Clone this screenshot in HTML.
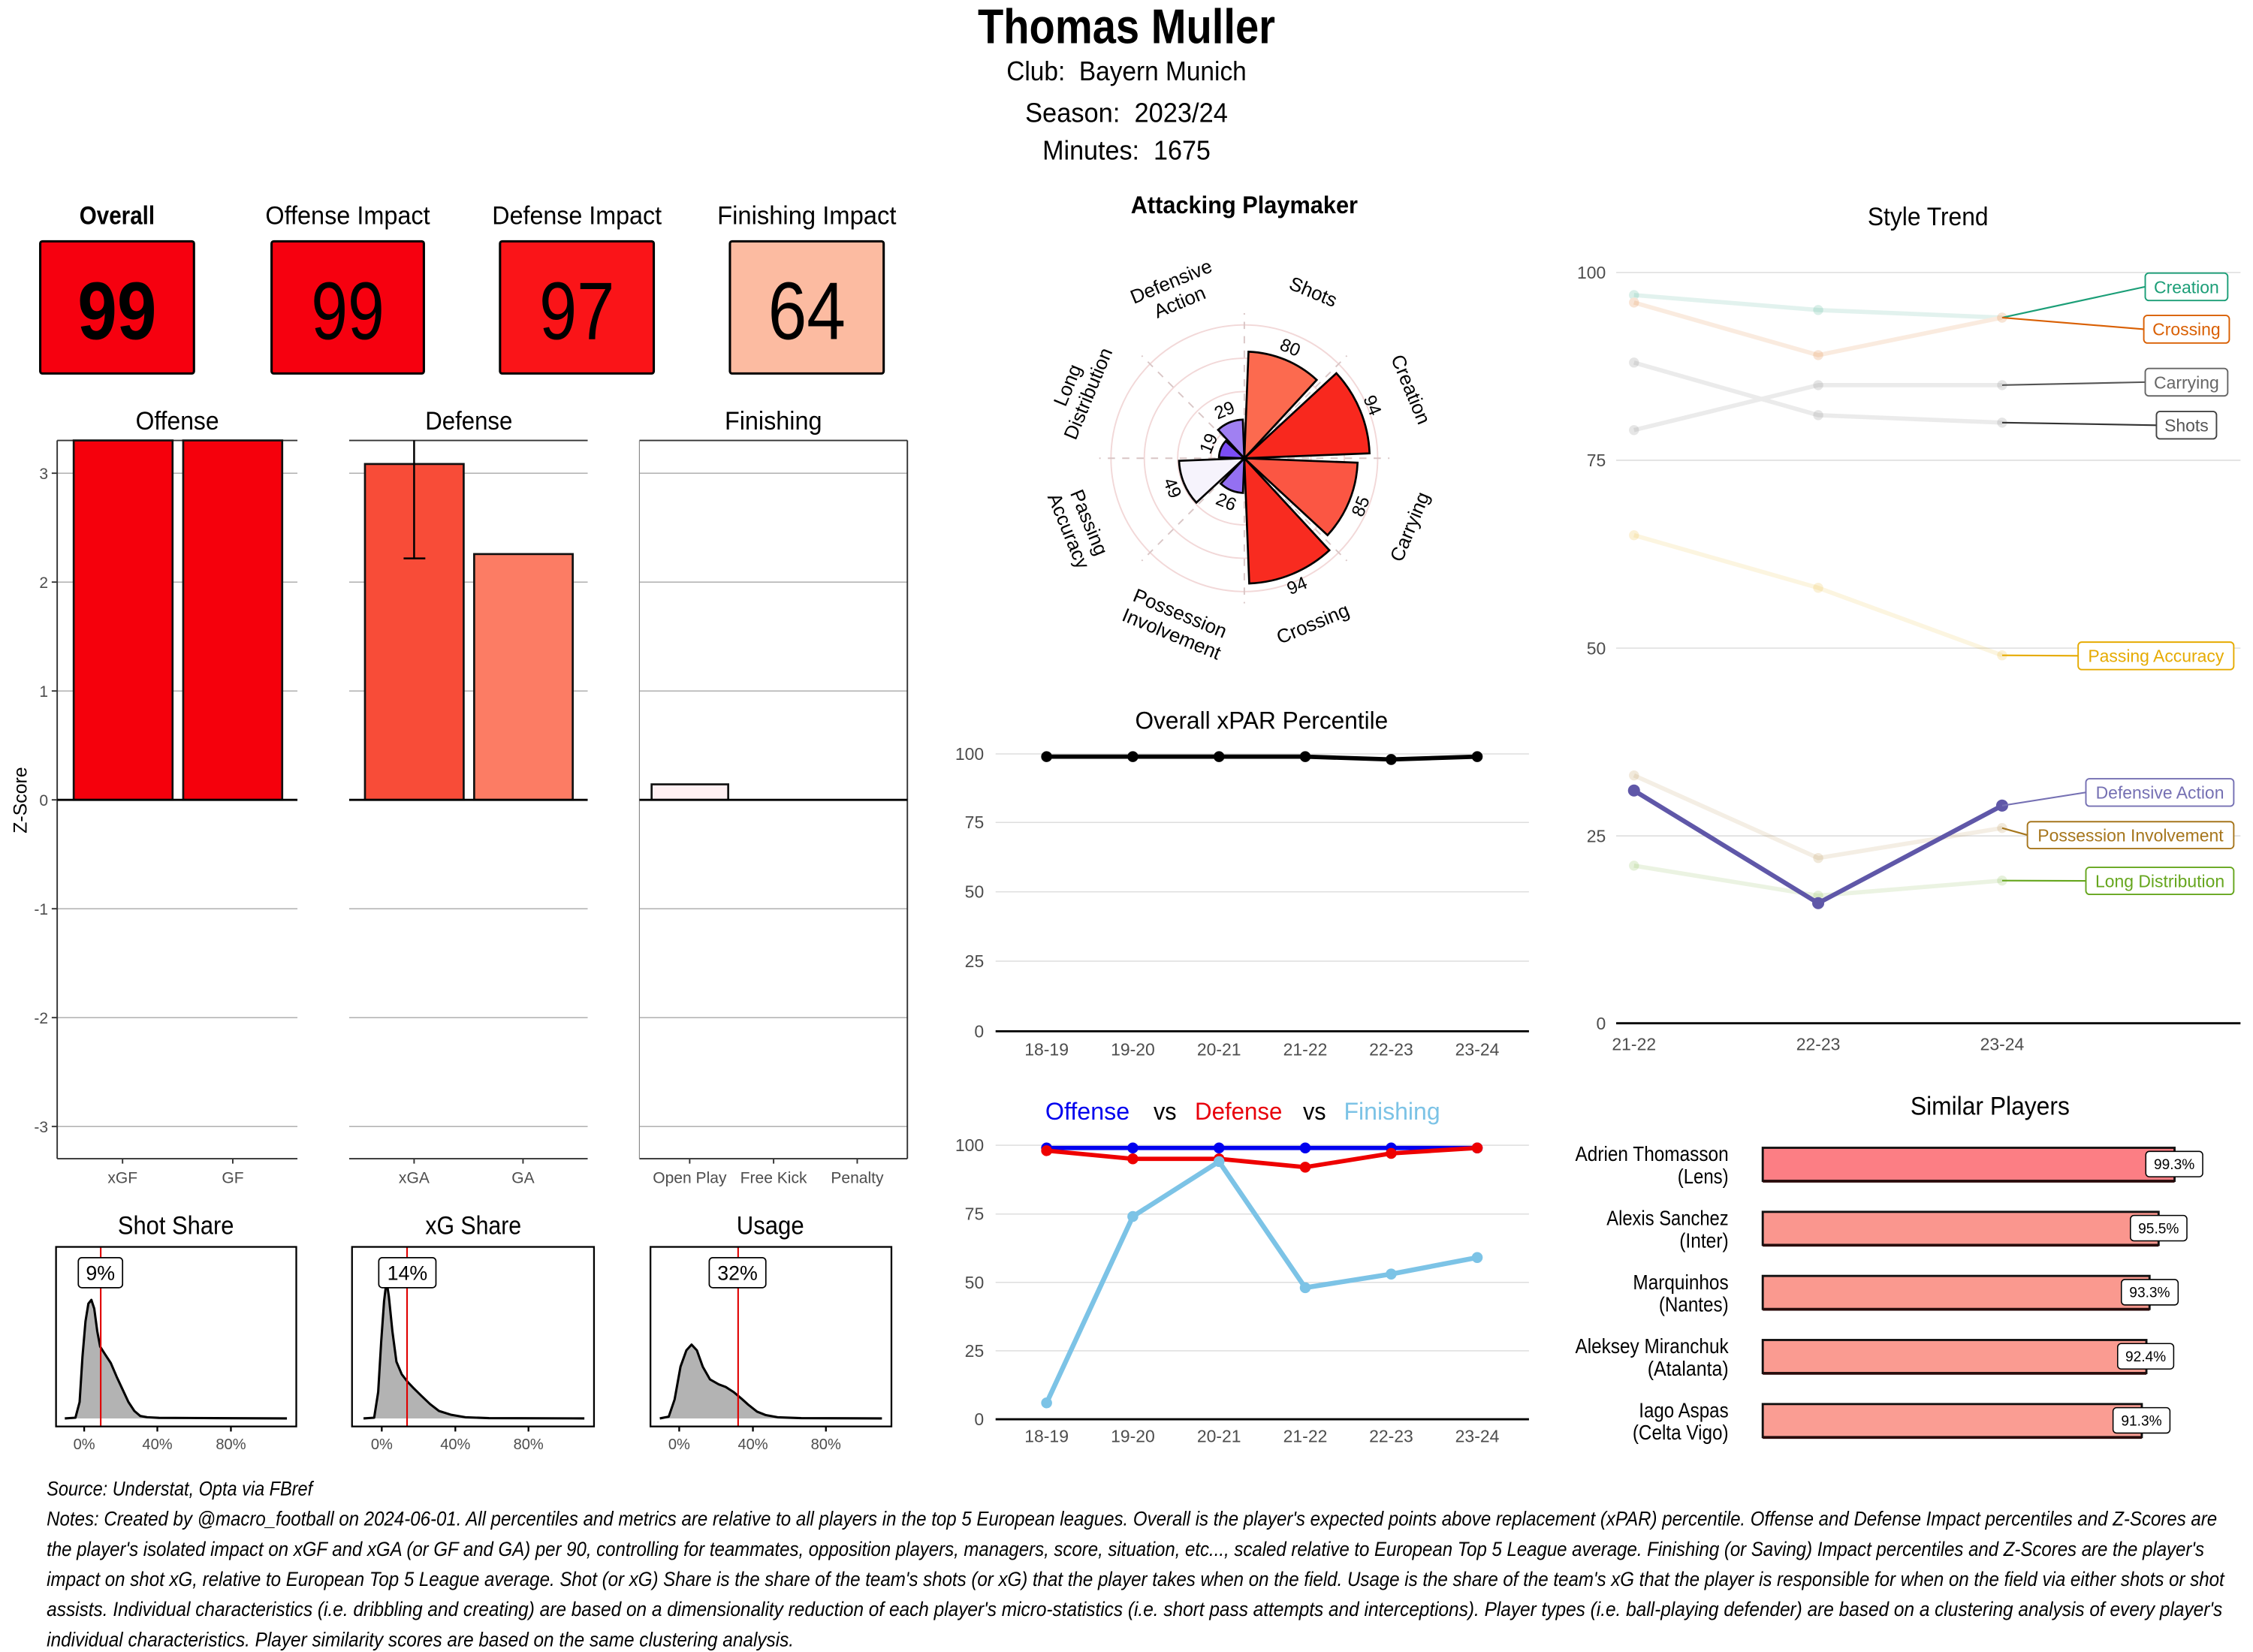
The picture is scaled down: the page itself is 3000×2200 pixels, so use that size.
<!DOCTYPE html>
<html><head><meta charset="utf-8"><style>
html,body{margin:0;padding:0;background:#fff;}
svg{display:block;}
.c{font-family:"Liberation Sans Narrow","Liberation Sans",sans-serif;}
.r{font-family:"Liberation Sans",sans-serif;}
</style></head><body>
<svg width="3000" height="2200" viewBox="0 0 1568 1150" preserveAspectRatio="none" xmlns="http://www.w3.org/2000/svg">
<rect x="0" y="0" width="1568" height="1150" fill="#fff"/>

<!-- HEADER -->
<g class="c" text-anchor="middle" fill="#000">
<text x="784" y="30" font-size="34" font-weight="bold" textLength="207" lengthAdjust="spacingAndGlyphs">Thomas Muller</text>
<text x="784" y="56" font-size="19" textLength="167" lengthAdjust="spacingAndGlyphs" xml:space="preserve">Club:  Bayern Munich</text>
<text x="784" y="85" font-size="19" textLength="141" lengthAdjust="spacingAndGlyphs" xml:space="preserve">Season:  2023/24</text>
<text x="784" y="111" font-size="19" textLength="117" lengthAdjust="spacingAndGlyphs" xml:space="preserve">Minutes:  1675</text>
</g>

<!-- SCORE BOXES -->
<g class="c" text-anchor="middle" fill="#000">
<text x="81.5" y="156" font-size="18" font-weight="bold" textLength="52.5" lengthAdjust="spacingAndGlyphs">Overall</text>
<text x="242" y="156" font-size="18" textLength="114.6" lengthAdjust="spacingAndGlyphs">Offense Impact</text>
<text x="401.5" y="156" font-size="18" textLength="118" lengthAdjust="spacingAndGlyphs">Defense Impact</text>
<text x="561.5" y="156" font-size="18" textLength="124.6" lengthAdjust="spacingAndGlyphs">Finishing Impact</text>
</g>
<g stroke="#000" stroke-width="1.6">
<rect x="28" y="168" width="107" height="92" rx="1.5" fill="#F6000F"/>
<rect x="189" y="168" width="106" height="92" rx="1.5" fill="#F6000F"/>
<rect x="348" y="168" width="107" height="92" rx="1.5" fill="#FA1418"/>
<rect x="508" y="168" width="107" height="92" rx="1.5" fill="#FCBBA1"/>
</g>
<g class="c" text-anchor="middle" fill="#000" font-size="57">
<text x="81.5" y="236" font-weight="bold" textLength="55" lengthAdjust="spacingAndGlyphs">99</text>
<text x="242" y="236" textLength="51" lengthAdjust="spacingAndGlyphs">99</text>
<text x="401.5" y="236" textLength="52.5" lengthAdjust="spacingAndGlyphs">97</text>
<text x="561.5" y="236" textLength="54" lengthAdjust="spacingAndGlyphs">64</text>
</g>

<!-- Z-SCORE BAR PANELS -->
<g class="c" text-anchor="middle" fill="#000" font-size="18">
<text x="123.4" y="299" textLength="58" lengthAdjust="spacingAndGlyphs">Offense</text>
<text x="326.3" y="299" textLength="60.7" lengthAdjust="spacingAndGlyphs">Defense</text>
<text x="538.2" y="299" textLength="67.7" lengthAdjust="spacingAndGlyphs">Finishing</text>
</g>
<g stroke="#a8a8a8" stroke-width="0.7">
<path d="M39.8 329.4H207M39.8 405.2H207M39.8 481H207M39.8 632.6H207M39.8 708.4H207M39.8 784.2H207"/>
<path d="M243 329.4H409M243 405.2H409M243 481H409M243 632.6H409M243 708.4H409M243 784.2H409"/>
<path d="M445 329.4H631.5M445 405.2H631.5M445 481H631.5M445 632.6H631.5M445 708.4H631.5M445 784.2H631.5"/>
</g>
<g stroke="#333" stroke-width="1" fill="none">
<path d="M39.8 306.6H207M243 306.6H409M445 306.6H631.5"/>
<path d="M39.8 806.6H207M243 806.6H409M445 806.6H631.5"/>
<path d="M39.8 306.6V806.6M631.5 306.6V806.6"/>
<path d="M36 329.4H39.8M36 405.2H39.8M36 481H39.8M36 556.8H39.8M36 632.6H39.8M36 708.4H39.8M36 784.2H39.8"/>
<path d="M85.3 806.6V810M162 806.6V810M288.2 806.6V810M364 806.6V810M480 806.6V810M538.4 806.6V810M596.6 806.6V810"/>
</g>
<path d="M445 306.6V806.6" stroke="#888" stroke-width="0.6"/>
<g class="c" fill="#4d4d4d" font-size="11" text-anchor="end">
<text x="33.5" y="333.4">3</text>
<text x="33.5" y="409.2">2</text>
<text x="33.5" y="485">1</text>
<text x="33.5" y="560.8">0</text>
<text x="33.5" y="636.6">-1</text>
<text x="33.5" y="712.4">-2</text>
<text x="33.5" y="788.2">-3</text>
</g>
<text class="r" x="0" y="0" font-size="13" text-anchor="middle" fill="#000" transform="translate(18.5 557) rotate(-90)">Z-Score</text>
<g class="c" fill="#4d4d4d" font-size="11" text-anchor="middle">
<text x="85.3" y="823.6">xGF</text>
<text x="162" y="823.6">GF</text>
<text x="288.2" y="823.6">xGA</text>
<text x="364" y="823.6">GA</text>
<text x="480" y="823.6">Open Play</text>
<text x="538.4" y="823.6">Free Kick</text>
<text x="596.6" y="823.6">Penalty</text>
</g>
<g stroke="#111" stroke-width="1.4">
<rect x="51.3" y="306.6" width="68.8" height="250.2" fill="#F5000C"/>
<rect x="127.5" y="306.6" width="68.9" height="250.2" fill="#F5000C"/>
<rect x="254" y="323" width="68.7" height="233.8" fill="#F84C38"/>
<rect x="330" y="385.7" width="68.6" height="171.1" fill="#FC7C64"/>
<rect x="453.5" y="546" width="53.3" height="10.8" fill="#FFF0F2"/>
</g>
<g stroke="#000" stroke-width="1.5">
<path d="M39.8 556.8H207M243 556.8H409M445 556.8H631.5"/>
</g>
<g stroke="#000" stroke-width="1.3">
<path d="M288.2 306.6V388.7M280.9 388.7H296"/>
</g>

<!-- DENSITY PANELS -->
<g class="c" text-anchor="middle" fill="#000" font-size="18">
<text x="122.4" y="859" textLength="80.8" lengthAdjust="spacingAndGlyphs">Shot Share</text>
<text x="329.4" y="859" textLength="66.8" lengthAdjust="spacingAndGlyphs">xG Share</text>
<text x="536.1" y="859" textLength="47" lengthAdjust="spacingAndGlyphs">Usage</text>
</g>
<g fill="#b3b3b3" stroke="#000" stroke-width="1.6" stroke-linejoin="round">
<path d="M45.1 987.4L52.5 986.9L55.4 976L57.4 944.4L59.5 919.8L61.5 907.5L63.6 904.9L65.6 911L67.7 926.8L69.7 937.4L73 942.6L77.1 948.8L81.2 958.4L85.3 967.2L89.4 976L93.5 982.2L97.6 985.7L102.5 986.6L110.7 987L150 987.2L199.7 987.4"/>
<path d="M253 987.4L260.4 986.9L263.2 969L265.3 933.9L267.3 905.8L269 891.7L270.6 902.2L273.1 926.8L275.9 947.9L279.6 956.7L283.7 962L287.8 966.3L293.2 971.6L299.3 977.4L305.5 982.2L313.7 984.8L323.9 986.6L340.3 987.2L406.7 987.4"/>
<path d="M459.2 987.4L465.4 986.2L469.5 974.2L473.6 951.4L477.7 940L481.3 936L485 940L489.1 951.4L494.1 960.2L500.2 963.7L505.1 965.5L510.5 969L515.8 973.4L520.7 977.8L526.9 982.7L533 985.1L541.2 986.6L557.6 987.2L613.8 987.4"/>
</g>
<g stroke="#E00000" stroke-width="1.1">
<path d="M70.1 868V993M283.3 868V993M513.7 868V993"/>
</g>
<g fill="none" stroke="#000" stroke-width="1.2">
<rect x="39" y="868" width="167.2" height="125"/>
<rect x="245" y="868" width="168.4" height="125"/>
<rect x="452.7" y="868" width="167.7" height="125"/>
<path d="M58.6 993V996.5M109.5 993V996.5M160.7 993V996.5M265.7 993V996.5M316.9 993V996.5M367.8 993V996.5M472.7 993V996.5M524 993V996.5M574.8 993V996.5"/>
</g>
<g fill="#fff" stroke="#000" stroke-width="0.9">
<rect x="54.5" y="875.5" width="30.8" height="20.9" rx="2.5"/>
<rect x="263.6" y="875.5" width="39.8" height="20.9" rx="2.5"/>
<rect x="493.6" y="875.5" width="39.4" height="20.9" rx="2.5"/>
</g>
<g class="c" text-anchor="middle" fill="#000" font-size="14">
<text x="69.9" y="891">9%</text>
<text x="283.5" y="891">14%</text>
<text x="513.3" y="891">32%</text>
</g>
<g class="c" text-anchor="middle" fill="#4d4d4d" font-size="10.5">
<text x="58.6" y="1009">0%</text><text x="109.5" y="1009">40%</text><text x="160.7" y="1009">80%</text>
<text x="265.7" y="1009">0%</text><text x="316.9" y="1009">40%</text><text x="367.8" y="1009">80%</text>
<text x="472.7" y="1009">0%</text><text x="524" y="1009">40%</text><text x="574.8" y="1009">80%</text>
</g>

<!-- RADAR -->
<text class="c" x="866" y="148.5" font-size="17" font-weight="bold" text-anchor="middle" textLength="158" lengthAdjust="spacingAndGlyphs">Attacking Playmaker</text>
<g fill="none" stroke="#F2D8D8" stroke-width="1">
<circle cx="866" cy="319" r="23.2"/>
<circle cx="866" cy="319" r="46.4"/>
<circle cx="866" cy="319" r="69.6"/>
<circle cx="866" cy="319" r="92.8"/>
</g>
<g stroke="#D9C6C6" stroke-width="1" stroke-dasharray="5 5">
<path d="M866 319V218M866 319V420M866 319H765M866 319H967M866 319L937.4 247.6M866 319L794.6 390.4M866 319L794.6 247.6M866 319L937.4 390.4"/>
</g>
<g stroke="#000" stroke-width="1.4" stroke-linejoin="miter">
<path d="M866 319L868.91 244.82A74.24 74.24 0 0 1 916.39 264.48Z" fill="#FC6A4F"/>
<path d="M866 319L930.05 259.79A87.23 87.23 0 0 1 953.16 315.58Z" fill="#F8281E"/>
<path d="M866 319L944.82 322.1A78.88 78.88 0 0 1 923.92 372.54Z" fill="#FB5643"/>
<path d="M866 319L925.21 383.05A87.23 87.23 0 0 1 869.42 406.16Z" fill="#F82B20"/>
<path d="M866 319L865.05 343.11A24.13 24.13 0 0 1 849.62 336.72Z" fill="#9470F2"/>
<path d="M866 319L832.61 349.87A45.47 45.47 0 0 1 820.57 320.79Z" fill="#F6F3FC"/>
<path d="M866 319L848.38 318.31A17.63 17.63 0 0 1 853.05 307.03Z" fill="#7B4DF5"/>
<path d="M866 319L847.73 299.24A26.91 26.91 0 0 1 864.94 292.11Z" fill="#A080F2"/>
</g>
<g class="r" font-size="12.5" fill="#000" text-anchor="middle" dominant-baseline="central">
<text transform="translate(897.85 242.1) rotate(22.5)">80</text>
<text transform="translate(954.9 282.2) rotate(67.5)">94</text>
<text transform="translate(947.2 352.6) rotate(-67.5)">85</text>
<text transform="translate(902.8 407.9) rotate(-22.5)">94</text>
<text transform="translate(853.3 349.6) rotate(22.5)">26</text>
<text transform="translate(815.7 339.8) rotate(67.5)">49</text>
<text transform="translate(841.4 308.8) rotate(-67.5)">19</text>
<text transform="translate(852.3 285.8) rotate(-22.5)">29</text>
</g>
<g class="r" font-size="13.5" fill="#000" text-anchor="middle" dominant-baseline="central">
<text transform="translate(913.8 203.5) rotate(22.5)">Shots</text>
<text transform="translate(981.5 271.2) rotate(67.5)">Creation</text>
<text transform="translate(981.5 366.8) rotate(-67.5)">Carrying</text>
<text transform="translate(913.8 434.5) rotate(-22.5)">Crossing</text>
<g transform="translate(818.2 434.5) rotate(22.5)"><text y="-7.75">Possession</text><text y="7.75">Involvement</text></g>
<g transform="translate(750.5 366.8) rotate(67.5)"><text y="-7.75">Passing</text><text y="7.75">Accuracy</text></g>
<g transform="translate(750.5 271.2) rotate(-67.5)"><text y="-7.75">Long</text><text y="7.75">Distribution</text></g>
<g transform="translate(818.2 203.5) rotate(-22.5)"><text y="-7.75">Defensive</text><text y="7.75">Action</text></g>
</g>

<!-- OVERALL xPAR -->
<text class="r" x="878" y="507.4" font-size="17" text-anchor="middle" fill="#000" textLength="176" lengthAdjust="spacingAndGlyphs">Overall xPAR Percentile</text>
<g stroke="#dedede" stroke-width="0.8">
<path d="M692.9 524.8H1064.1M692.9 572.5H1064.1M692.9 620.8H1064.1M692.9 669.1H1064.1"/>
</g>
<path d="M692.9 717.9H1064.1" stroke="#000" stroke-width="1.5"/>
<g class="r" fill="#4d4d4d" font-size="12" text-anchor="end">
<text x="684.8" y="529">100</text><text x="684.8" y="576.7">75</text><text x="684.8" y="625">50</text><text x="684.8" y="673.3">25</text><text x="684.8" y="722.1">0</text>
</g>
<g class="r" fill="#4d4d4d" font-size="12" text-anchor="middle">
<text x="728.4" y="734.8">18-19</text><text x="788.4" y="734.8">19-20</text><text x="848.4" y="734.8">20-21</text><text x="908.4" y="734.8">21-22</text><text x="968.2" y="734.8">22-23</text><text x="1028.1" y="734.8">23-24</text>
</g>
<polyline points="728.4,526.7 788.4,526.7 848.4,526.7 908.4,526.7 968.2,528.7 1028.1,526.7" fill="none" stroke="#000" stroke-width="3" stroke-linejoin="round"/>
<g fill="#000">
<circle cx="728.4" cy="526.7" r="3.8"/><circle cx="788.4" cy="526.7" r="3.8"/><circle cx="848.4" cy="526.7" r="3.8"/><circle cx="908.4" cy="526.7" r="3.8"/><circle cx="968.2" cy="528.7" r="3.8"/><circle cx="1028.1" cy="526.7" r="3.8"/>
</g>

<!-- OFFENSE VS DEFENSE VS FINISHING -->
<g class="r" font-size="17">
<text x="727.5" y="779.5" fill="#0000EE" textLength="58.7" lengthAdjust="spacingAndGlyphs">Offense</text>
<text x="802.8" y="779.5" fill="#000" textLength="16" lengthAdjust="spacingAndGlyphs">vs</text>
<text x="831.6" y="779.5" fill="#E8000B" textLength="60.8" lengthAdjust="spacingAndGlyphs">Defense</text>
<text x="906.8" y="779.5" fill="#000" textLength="16" lengthAdjust="spacingAndGlyphs">vs</text>
<text x="935.3" y="779.5" fill="#7CC3E6" textLength="67" lengthAdjust="spacingAndGlyphs">Finishing</text>
</g>
<g stroke="#dedede" stroke-width="0.8">
<path d="M692.9 797.2H1064.1M692.9 845.1H1064.1M692.9 892.7H1064.1M692.9 940.3H1064.1"/>
</g>
<path d="M692.9 988H1064.1" stroke="#000" stroke-width="1.5"/>
<g class="r" fill="#4d4d4d" font-size="12" text-anchor="end">
<text x="684.8" y="801.4">100</text><text x="684.8" y="849.3">75</text><text x="684.8" y="896.9">50</text><text x="684.8" y="944.5">25</text><text x="684.8" y="992.2">0</text>
</g>
<g class="r" fill="#4d4d4d" font-size="12" text-anchor="middle">
<text x="728.4" y="1004">18-19</text><text x="788.4" y="1004">19-20</text><text x="848.4" y="1004">20-21</text><text x="908.4" y="1004">21-22</text><text x="968.2" y="1004">22-23</text><text x="1028.1" y="1004">23-24</text>
</g>
<polyline points="728.4,799.1 788.4,799.1 848.4,799.1 908.4,799.1 968.2,799.1 1028.1,799.1" fill="none" stroke="#0000EE" stroke-width="3" stroke-linejoin="round"/>
<g fill="#0000EE"><circle cx="728.4" cy="799.1" r="3.8"/><circle cx="788.4" cy="799.1" r="3.8"/><circle cx="848.4" cy="799.1" r="3.8"/><circle cx="908.4" cy="799.1" r="3.8"/><circle cx="968.2" cy="799.1" r="3.8"/><circle cx="1028.1" cy="799.1" r="3.8"/></g>
<polyline points="728.4,801 788.4,806.7 848.4,806.7 908.4,812.5 968.2,802.9 1028.1,799.1" fill="none" stroke="#EE0000" stroke-width="3" stroke-linejoin="round"/>
<g fill="#EE0000"><circle cx="728.4" cy="801" r="3.8"/><circle cx="788.4" cy="806.7" r="3.8"/><circle cx="848.4" cy="806.7" r="3.8"/><circle cx="908.4" cy="812.5" r="3.8"/><circle cx="968.2" cy="802.9" r="3.8"/><circle cx="1028.1" cy="799.1" r="3.8"/></g>
<polyline points="728.4,976.6 788.4,846.8 848.4,808.6 908.4,896.4 968.2,886.9 1028.1,875.4" fill="none" stroke="#7CC3E6" stroke-width="3.4" stroke-linejoin="round"/>
<g fill="#7CC3E6"><circle cx="728.4" cy="976.6" r="3.8"/><circle cx="788.4" cy="846.8" r="3.8"/><circle cx="848.4" cy="808.6" r="3.8"/><circle cx="908.4" cy="896.4" r="3.8"/><circle cx="968.2" cy="886.9" r="3.8"/><circle cx="1028.1" cy="875.4" r="3.8"/></g>

<!-- STYLE TREND -->
<text class="r" x="1341.8" y="156.8" font-size="18" text-anchor="middle" fill="#000" textLength="84" lengthAdjust="spacingAndGlyphs">Style Trend</text>
<g stroke="#dedede" stroke-width="0.8">
<path d="M1124.8 189.7H1559.3M1124.8 320.4H1559.3M1124.8 451.2H1559.3M1124.8 581.9H1559.3"/>
</g>
<path d="M1124.8 712.3H1559.3" stroke="#000" stroke-width="1.5"/>
<g class="r" fill="#4d4d4d" font-size="12" text-anchor="end">
<text x="1117.6" y="194">100</text><text x="1117.6" y="324.7">75</text><text x="1117.6" y="455.5">50</text><text x="1117.6" y="586.2">25</text><text x="1117.6" y="716.6">0</text>
</g>
<g class="r" fill="#4d4d4d" font-size="12" text-anchor="middle">
<text x="1137.2" y="731">21-22</text><text x="1265.4" y="731">22-23</text><text x="1393.4" y="731">23-24</text>
</g>
<g fill="none" stroke-width="3" stroke-linejoin="round" opacity="0.12">
<polyline points="1137.2,205.4 1265.4,215.8 1393.4,221.1" stroke="#1B9E77"/>
<polyline points="1137.2,210.6 1265.4,247.2 1393.4,221.1" stroke="#D95F02"/>
<polyline points="1137.2,299.4 1265.4,268.1 1393.4,268.1" stroke="#666666"/>
<polyline points="1137.2,252.4 1265.4,289 1393.4,294.2" stroke="#666666"/>
<polyline points="1137.2,372.6 1265.4,409.2 1393.4,456.2" stroke="#E6AB02"/>
<polyline points="1137.2,539.8 1265.4,597.3 1393.4,576.4" stroke="#A6761D"/>
<polyline points="1137.2,602.6 1265.4,623.5 1393.4,613" stroke="#66A61E"/>
</g>
<g opacity="0.16">
<g fill="#1B9E77"><circle cx="1137.2" cy="205.4" r="3.5"/><circle cx="1265.4" cy="215.8" r="3.5"/><circle cx="1393.4" cy="221.1" r="3.5"/></g>
<g fill="#D95F02"><circle cx="1137.2" cy="210.6" r="3.5"/><circle cx="1265.4" cy="247.2" r="3.5"/><circle cx="1393.4" cy="221.1" r="3.5"/></g>
<g fill="#666"><circle cx="1137.2" cy="299.4" r="3.5"/><circle cx="1265.4" cy="268.1" r="3.5"/><circle cx="1393.4" cy="268.1" r="3.5"/><circle cx="1137.2" cy="252.4" r="3.5"/><circle cx="1265.4" cy="289" r="3.5"/><circle cx="1393.4" cy="294.2" r="3.5"/></g>
<g fill="#E6AB02"><circle cx="1137.2" cy="372.6" r="3.5"/><circle cx="1265.4" cy="409.2" r="3.5"/><circle cx="1393.4" cy="456.2" r="3.5"/></g>
<g fill="#A6761D"><circle cx="1137.2" cy="539.8" r="3.5"/><circle cx="1265.4" cy="597.3" r="3.5"/><circle cx="1393.4" cy="576.4" r="3.5"/></g>
<g fill="#66A61E"><circle cx="1137.2" cy="602.6" r="3.5"/><circle cx="1265.4" cy="623.5" r="3.5"/><circle cx="1393.4" cy="613" r="3.5"/></g>
</g>
<polyline points="1137.2,550.3 1265.4,628.7 1393.4,560.8" fill="none" stroke="#5F57A8" stroke-width="3.2" stroke-linejoin="round"/>
<g fill="#5F57A8"><circle cx="1137.2" cy="550.3" r="4.2"/><circle cx="1265.4" cy="628.7" r="4.2"/><circle cx="1393.4" cy="560.8" r="4.2"/></g>
<g fill="none" stroke-width="1.1">
<path d="M1393.4 221.1L1493 199.6" stroke="#1B9E77"/>
<path d="M1393.4 221.1L1492 229.2" stroke="#D95F02"/>
<path d="M1393.4 268.1L1493 266" stroke="#555"/>
<path d="M1393.4 294.2L1500.8 296" stroke="#333"/>
<path d="M1393.4 456.2L1446.3 456.5" stroke="#E6AB02"/>
<path d="M1393.4 560.8L1451.7 551.6" stroke="#7570B3"/>
<path d="M1393.4 576.4L1411 581.3" stroke="#A6761D"/>
<path d="M1393.4 613L1451.7 613.2" stroke="#66A61E"/>
</g>
<g fill="#fff" stroke-width="1">
<rect x="1493" y="190.1" width="57.4" height="19.1" rx="2.5" stroke="#1B9E77"/>
<rect x="1492" y="219.6" width="59.5" height="19.2" rx="2.5" stroke="#D95F02"/>
<rect x="1493" y="256.5" width="57.4" height="19.1" rx="2.5" stroke="#666"/>
<rect x="1500.8" y="286.4" width="41.8" height="19.1" rx="2.5" stroke="#444"/>
<rect x="1446.3" y="447" width="108.3" height="19.1" rx="2.5" stroke="#E6AB02"/>
<rect x="1451.7" y="542.1" width="102.9" height="19.1" rx="2.5" stroke="#7570B3"/>
<rect x="1411" y="572" width="143.6" height="18.7" rx="2.5" stroke="#A6761D"/>
<rect x="1451.7" y="603.8" width="102.9" height="18.8" rx="2.5" stroke="#66A61E"/>
</g>
<g class="r" font-size="12" text-anchor="middle">
<text x="1521.7" y="204" fill="#1B9E77">Creation</text>
<text x="1521.7" y="233.5" fill="#D95F02">Crossing</text>
<text x="1521.7" y="270.4" fill="#666">Carrying</text>
<text x="1521.7" y="300.3" fill="#555">Shots</text>
<text x="1500.5" y="460.9" fill="#E6AB02">Passing Accuracy</text>
<text x="1503.2" y="556" fill="#7570B3">Defensive Action</text>
<text x="1482.8" y="585.7" fill="#A6761D">Possession Involvement</text>
<text x="1503.2" y="617.6" fill="#66A61E">Long Distribution</text>
</g>

<!-- SIMILAR PLAYERS -->
<text class="c" x="1385" y="776" font-size="18" text-anchor="middle" fill="#000" textLength="110.8" lengthAdjust="spacingAndGlyphs">Similar Players</text>
<g stroke="#111" stroke-width="1.5">
<rect x="1226.8" y="799" width="286.6" height="23" fill="#FC7E84"/>
<rect x="1226.8" y="843.6" width="275.5" height="23" fill="#FA968E"/>
<rect x="1226.8" y="888.2" width="269.2" height="23" fill="#FA998F"/>
<rect x="1226.8" y="932.8" width="267" height="23" fill="#FA9B91"/>
<rect x="1226.8" y="977.4" width="263.8" height="23" fill="#FA9D93"/>
</g>
<g stroke="#2a0a0a" stroke-width="1.6">
<path d="M1226.8 822.4H1513.4M1226.8 867H1502.3M1226.8 911.6H1496M1226.8 956.2H1493.8M1226.8 1000.8H1490.6"/>
</g>
<g class="c" font-size="14.5" text-anchor="end" fill="#000">
<text x="1203" y="808.2" textLength="106.7" lengthAdjust="spacingAndGlyphs">Adrien Thomasson</text>
<text x="1203" y="823.8" textLength="35.5" lengthAdjust="spacingAndGlyphs">(Lens)</text>
<text x="1203" y="852.8" textLength="84.9" lengthAdjust="spacingAndGlyphs">Alexis Sanchez</text>
<text x="1203" y="868.4" textLength="34.2" lengthAdjust="spacingAndGlyphs">(Inter)</text>
<text x="1203" y="897.4" textLength="66.5" lengthAdjust="spacingAndGlyphs">Marquinhos</text>
<text x="1203" y="913" textLength="48.5" lengthAdjust="spacingAndGlyphs">(Nantes)</text>
<text x="1203" y="942" textLength="106.7" lengthAdjust="spacingAndGlyphs">Aleksey Miranchuk</text>
<text x="1203" y="957.6" textLength="56.4" lengthAdjust="spacingAndGlyphs">(Atalanta)</text>
<text x="1203" y="986.6" textLength="62.4" lengthAdjust="spacingAndGlyphs">Iago Aspas</text>
<text x="1203" y="1002.2" textLength="66.8" lengthAdjust="spacingAndGlyphs">(Celta Vigo)</text>
</g>
<g fill="#fff" stroke="#000" stroke-width="0.8">
<rect x="1493.4" y="801.5" width="39.6" height="17.7" rx="2.5"/>
<rect x="1482.7" y="846.1" width="39.3" height="17.7" rx="2.5"/>
<rect x="1476.4" y="890.7" width="39.5" height="17.7" rx="2.5"/>
<rect x="1473.8" y="935.3" width="39" height="17.7" rx="2.5"/>
<rect x="1470.6" y="979.9" width="39.6" height="17.7" rx="2.5"/>
</g>
<g class="c" font-size="10" text-anchor="middle" fill="#000">
<text x="1513.2" y="813.9">99.3%</text>
<text x="1502.3" y="858.5">95.5%</text>
<text x="1496.1" y="903.1">93.3%</text>
<text x="1493.3" y="947.7">92.4%</text>
<text x="1490.4" y="992.3">91.3%</text>
</g>

<!-- NOTES -->
<g class="c" font-size="14" font-style="italic" fill="#000">
<text x="32.5" y="1041" textLength="185" lengthAdjust="spacingAndGlyphs">Source: Understat, Opta via FBref</text>
<text x="32.5" y="1062" textLength="1510.5" lengthAdjust="spacingAndGlyphs">Notes: Created by @macro_football on 2024-06-01. All percentiles and metrics are relative to all players in the top 5 European leagues. Overall is the player's expected points above replacement (xPAR) percentile. Offense and Defense Impact percentiles and Z-Scores are</text>
<text x="32.5" y="1083" textLength="1501.5" lengthAdjust="spacingAndGlyphs">the player's isolated impact on xGF and xGA (or GF and GA) per 90, controlling for teammates, opposition players, managers, score, situation, etc..., scaled relative to European Top 5 League average. Finishing (or Saving) Impact percentiles and Z-Scores are the player's</text>
<text x="32.5" y="1104" textLength="1515.5" lengthAdjust="spacingAndGlyphs">impact on shot xG, relative to European Top 5 League average. Shot (or xG) Share is the share of the team's shots (or xG) that the player takes when on the field. Usage is the share of the team's xG that the player is responsible for when on the field via either shots or shot</text>
<text x="32.5" y="1125" textLength="1514.2" lengthAdjust="spacingAndGlyphs">assists. Individual characteristics (i.e. dribbling and creating) are based on a dimensionality reduction of each player's micro-statistics (i.e. short pass attempts and interceptions). Player types (i.e. ball-playing defender) are based on a clustering analysis of every player's</text>
<text x="32.5" y="1146" textLength="520" lengthAdjust="spacingAndGlyphs">individual characteristics. Player similarity scores are based on the same clustering analysis.</text>
</g>
</svg>
</body></html>
